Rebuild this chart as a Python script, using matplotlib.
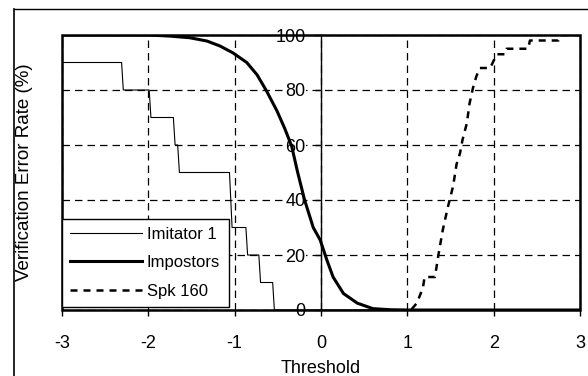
import matplotlib
matplotlib.use("Agg")
import matplotlib.pyplot as plt
from matplotlib.lines import Line2D
from matplotlib.patches import Rectangle

plt.rcParams['font.family'] = ['Liberation Sans', 'DejaVu Sans']
plt.rcParams['axes.unicode_minus'] = False

# ---- data ----
imitator_x = [-3.0, -2.31, -2.29, -1.99, -1.97, -1.71, -1.69, -1.66, -1.64,
              -1.06, -1.03, -0.87, -0.85, -0.72, -0.70, -0.56, -0.54, 3.0]
imitator_y = [90, 90, 80, 80, 70, 70, 60, 60, 50,
              50, 30, 30, 20, 20, 10, 10, 0, 0]

impostors_x = [-3.0, -2.0, -1.75, -1.52, -1.32, -1.17, -1.02, -0.86, -0.74, -0.63,
               -0.51, -0.42, -0.34, -0.27, -0.19, -0.09, -0.01, 0.07, 0.14, 0.26,
               0.42, 0.60, 0.80, 1.0, 3.0]
impostors_y = [100, 100, 99.6, 99, 97.8, 96, 93.5, 90, 85.5, 79.6,
               72.4, 66, 59.6, 50, 40, 30, 25.5, 18, 12, 6,
               2.5, 0.5, 0.1, 0, 0]

spk_x = [1.05, 1.11, 1.18, 1.20, 1.32, 1.36, 1.41, 1.47, 1.53, 1.57, 1.61, 1.64,
         1.69, 1.72, 1.76, 1.80, 1.84, 1.96, 2.02, 2.04, 2.13, 2.15, 2.40, 2.42,
         2.75, 2.77, 3.0]
spk_y = [0.3, 2.5, 8, 12, 12, 20, 29, 37.5, 45, 53, 57, 62,
         68, 75, 80.7, 85, 88, 88, 92, 93, 93, 95, 95, 98,
         98, 100, 100]

x_ticks = [-3, -2, -1, 0, 1, 2, 3]
y_ticks = [0, 20, 40, 60, 80, 100]
series_labels = ["Imitator 1", "Impostors", "Spk 160"]

# ---- figure ----
fig = plt.figure(figsize=(5.88, 3.76), dpi=100)
ax = fig.add_axes([62/588, 1 - 310/376, (580-62)/588, (310-35)/376])

ax.plot(imitator_x, imitator_y, color='black', lw=0.8, label=series_labels[0], zorder=4)
ax.plot(impostors_x, impostors_y, color='black', lw=2.2, label=series_labels[1], zorder=5,
        solid_joinstyle='round')
ax.plot(spk_x, spk_y, color='black', lw=1.8, linestyle=(0, (2.8, 2.4)),
        label=series_labels[2], zorder=5)

ax.set_xlim(-3, 3)
ax.set_ylim(0, 100)
ax.set_xticks(x_ticks)
ax.set_yticks(y_ticks)

ax.grid(True, color='black', lw=0.9, linestyle=(0, (6, 4)))

# y axis at x = 0
ax.spines['left'].set_position(('data', 0))
ax.spines['left'].set_linewidth(1.0)
for s in ['top', 'right', 'bottom']:
    ax.spines[s].set_visible(False)
frame = Rectangle((0, 0), 1, 1, transform=ax.transAxes, fill=False,
                  edgecolor='black', lw=1.8, zorder=6, clip_on=False)
ax.add_patch(frame)

ax.tick_params(axis='y', direction='out', length=4, width=1, pad=7, labelsize=13)
ax.tick_params(axis='x', direction='out', length=4, width=1, pad=14, labelsize=13)
for lab in ax.get_yticklabels():
    lab.set_bbox(dict(facecolor='white', edgecolor='none', pad=0.3))

ax.set_xlabel("Threshold", fontsize=13, labelpad=0)
ax.set_ylabel("Verification Error Rate (%)", fontsize=13.5)
ax.yaxis.set_label_coords((33-62)/518, 0.5, transform=ax.transAxes)
ax.xaxis.set_label_coords(0.5, -(360-310)/275)

leg = ax.legend(loc='lower left', bbox_to_anchor=(0.0, 0.011), borderaxespad=0,
                fontsize=12, frameon=True, fancybox=False, handlelength=4.3,
                handletextpad=0.3, labelspacing=0.8, borderpad=0.5)
leg.get_frame().set_edgecolor('black')
leg.get_frame().set_linewidth(1.0)
leg.get_frame().set_alpha(1)
leg.set_zorder(7)

# outer frame of the figure panel
fig.add_artist(Line2D([14/588, 14/588], [0, 1 - 9/376], color='black', lw=1.2))
fig.add_artist(Line2D([14/588, 1], [1 - 9/376, 1 - 9/376], color='black', lw=1.0))

fig.savefig("out.png", dpi=100)
